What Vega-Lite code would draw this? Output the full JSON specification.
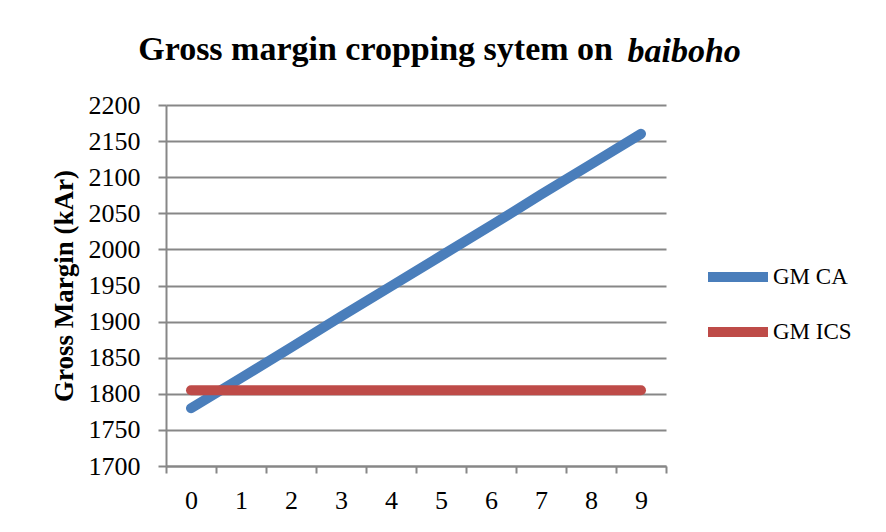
{
  "$schema": "https://vega.github.io/schema/vega-lite/v6.json",
  "width": 500,
  "height": 361,
  "autosize": {"type": "none"},
  "padding": {"left": 166, "top": 105, "right": 220, "bottom": 66},
  "background": "white",
  "title": {
    "text": "Gross margin cropping sytem on",
    "anchor": "end",
    "frame": "group",
    "dx": -53,
    "dy": 33,
    "offset": 0,
    "fontSize": 34,
    "font": "Liberation Serif",
    "fontWeight": "bold",
    "color": "black"
  },
  "config": {"view": {"stroke": null}},
  "data": {
    "values": [
      {"year": "0", "series": "GM CA", "value": 1780},
      {"year": "1", "series": "GM CA", "value": 1822},
      {"year": "2", "series": "GM CA", "value": 1864},
      {"year": "3", "series": "GM CA", "value": 1907},
      {"year": "4", "series": "GM CA", "value": 1949},
      {"year": "5", "series": "GM CA", "value": 1991},
      {"year": "6", "series": "GM CA", "value": 2033},
      {"year": "7", "series": "GM CA", "value": 2076},
      {"year": "8", "series": "GM CA", "value": 2118},
      {"year": "9", "series": "GM CA", "value": 2160},
      {"year": "0", "series": "GM ICS", "value": 1805},
      {"year": "1", "series": "GM ICS", "value": 1805},
      {"year": "2", "series": "GM ICS", "value": 1805},
      {"year": "3", "series": "GM ICS", "value": 1805},
      {"year": "4", "series": "GM ICS", "value": 1805},
      {"year": "5", "series": "GM ICS", "value": 1805},
      {"year": "6", "series": "GM ICS", "value": 1805},
      {"year": "7", "series": "GM ICS", "value": 1805},
      {"year": "8", "series": "GM ICS", "value": 1805},
      {"year": "9", "series": "GM ICS", "value": 1805}
    ]
  },
  "encoding": {
    "y": {
      "field": "value",
      "type": "quantitative",
      "scale": {"domain": [1700, 2200], "nice": false, "zero": false},
      "axis": {
        "title": "Gross Margin (kAr)",
        "titleFont": "Liberation Serif",
        "titleFontSize": 27,
        "titleFontWeight": "bold",
        "titleColor": "black",
        "titlePadding": 10,
        "values": [1700, 1750, 1800, 1850, 1900, 1950, 2000, 2050, 2100, 2150, 2200],
        "format": "d",
        "labelOverlap": false,
        "labelFont": "Liberation Serif",
        "labelFontSize": 26,
        "labelColor": "black",
        "labelPadding": 18,
        "tickSize": 8,
        "tickColor": "#878787",
        "tickWidth": 2,
        "domainColor": "#878787",
        "domainWidth": 2,
        "grid": true,
        "gridColor": "#878787",
        "gridWidth": 2
      }
    }
  },
  "layer": [
    {
      "mark": {"type": "line", "strokeWidth": 10, "strokeCap": "round", "strokeJoin": "round"},
      "encoding": {
        "x": {
          "field": "year",
          "type": "ordinal",
          "bandPosition": 0.5,
          "scale": {"type": "band", "paddingInner": 0, "paddingOuter": 0},
          "axis": {
            "orient": "bottom",
            "title": null,
            "labelAngle": 0,
            "labelFont": "Liberation Serif",
            "labelFontSize": 26,
            "labelColor": "black",
            "labelPadding": 14,
            "labelOverlap": false,
            "tickBand": "extent",
            "tickSize": 7,
            "tickColor": "#878787",
            "tickWidth": 2,
            "domainColor": "#878787",
            "domainWidth": 2,
            "grid": false
          }
        },
        "color": {
          "field": "series",
          "type": "nominal",
          "scale": {"domain": ["GM CA", "GM ICS"], "range": ["#4a7ebb", "#be4b48"]},
          "legend": {
            "title": null,
            "orient": "none",
            "legendX": 537,
            "legendY": 137,
            "symbolType": "stroke",
            "symbolSize": 3600,
            "symbolStrokeWidth": 10,
            "labelFont": "Liberation Serif",
            "labelFontSize": 23,
            "labelColor": "black",
            "labelOffset": 0,
            "rowPadding": -20
          }
        }
      }
    },
    {
      "mark": {"type": "line", "opacity": 0},
      "encoding": {
        "x": {
          "field": "year",
          "type": "ordinal",
          "bandPosition": 0.5,
          "axis": {
            "orient": "top",
            "title": "baiboho",
            "titleFont": "Liberation Serif",
            "titleFontSize": 34,
            "titleFontWeight": "bold",
            "titleFontStyle": "italic",
            "titleColor": "black",
            "titleAnchor": "start",
            "titleAlign": "left",
            "titleBaseline": "alphabetic",
            "titleX": 461,
            "titleY": -44,
            "labels": false,
            "ticks": false,
            "domain": false,
            "grid": false
          }
        },
        "detail": {"field": "series"}
      }
    }
  ],
  "resolve": {"axis": {"x": "independent"}}
}
